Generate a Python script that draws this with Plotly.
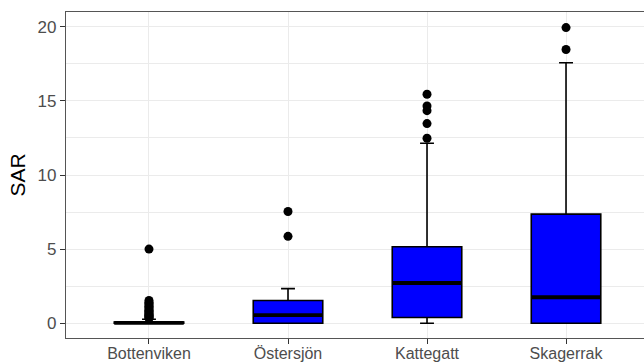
import plotly.graph_objects as go

# ---- data ----
categories = ["Bottenviken", "Östersjön", "Kattegatt", "Skagerrak"]
q1 = [0.0, 0.0, 0.38, 0.0]
median = [0.02, 0.54, 2.71, 1.75]
q3 = [0.08, 1.53, 5.16, 7.36]
lower_fence = [0.0, 0.0, 0.0, 0.0]
upper_fence = [0.27, 2.33, 12.14, 17.58]
outliers = [
    [0.33, 0.38, 0.43, 0.48, 0.53, 0.58, 0.65, 0.72, 0.8, 0.88, 0.96, 1.05,
     1.14, 1.23, 1.32, 1.42, 1.53, 5.0],
    [5.86, 7.54],
    [12.48, 13.47, 14.34, 14.66, 15.45],
    [18.47, 19.95],
]
y_ticks = [0, 5, 10, 15, 20]

BOX_W = 0.5
FILL = "#0000FF"
AXIS_COL = "#555555"

fig = go.Figure()
for i, cat in enumerate(categories):
    fig.add_trace(go.Box(
        x=[i], q1=[q1[i]], median=[median[i]], q3=[q3[i]],
        lowerfence=[lower_fence[i]], upperfence=[upper_fence[i]],
        width=BOX_W, fillcolor=FILL,
        line=dict(color="black", width=1.6),
        whiskerwidth=0.2, boxpoints=False, showlegend=False,
        hoverinfo="skip", name=cat,
    ))
    # thicker median line
    fig.add_trace(go.Scatter(
        x=[i - BOX_W / 2, i + BOX_W / 2], y=[median[i], median[i]],
        mode="lines", line=dict(color="black", width=3.8),
        showlegend=False, hoverinfo="skip",
    ))
    fig.add_trace(go.Scatter(
        x=[i] * len(outliers[i]), y=outliers[i], mode="markers",
        marker=dict(color="black", size=9),
        showlegend=False, hoverinfo="skip",
    ))

fig.update_layout(
    width=644, height=362,
    margin=dict(l=66, r=0, t=12, b=24),
    plot_bgcolor="white", paper_bgcolor="white",
    font=dict(family="Liberation Sans, Arial, sans-serif", color="#4D4D4D", size=16.5),
)
fig.update_xaxes(
    range=[-0.597, 3.561], automargin=False,
    tickmode="array", tickvals=list(range(len(categories))), ticktext=categories,
    showgrid=True, gridcolor="#EBEBEB", gridwidth=1.1,
    showline=True, linecolor=AXIS_COL, linewidth=1.2, mirror=True,
    ticks="outside", ticklen=5, tickcolor="#333333", tickwidth=1.2,
    tickfont=dict(size=16, color="#4D4D4D"), ticklabelstandoff=-4,
    zeroline=False,
)
fig.update_yaxes(
    range=[-1, 21], automargin=False,
    tickmode="array", tickvals=y_ticks, ticktext=[str(v) for v in y_ticks],
    showgrid=True, gridcolor="#EBEBEB", gridwidth=1.1,
    minor=dict(dtick=2.5, tick0=0, showgrid=True, gridcolor="#EBEBEB", gridwidth=0.6, ticks=""),
    showline=True, linecolor=AXIS_COL, linewidth=1.2, mirror=False,
    ticks="outside", ticklen=5, tickcolor="#333333", tickwidth=1.2,
    tickfont=dict(size=17, color="#4D4D4D"),
    title=dict(text="SAR", font=dict(size=21, color="black"), standoff=6),
    zeroline=False,
)
fig.write_html("out.html")
